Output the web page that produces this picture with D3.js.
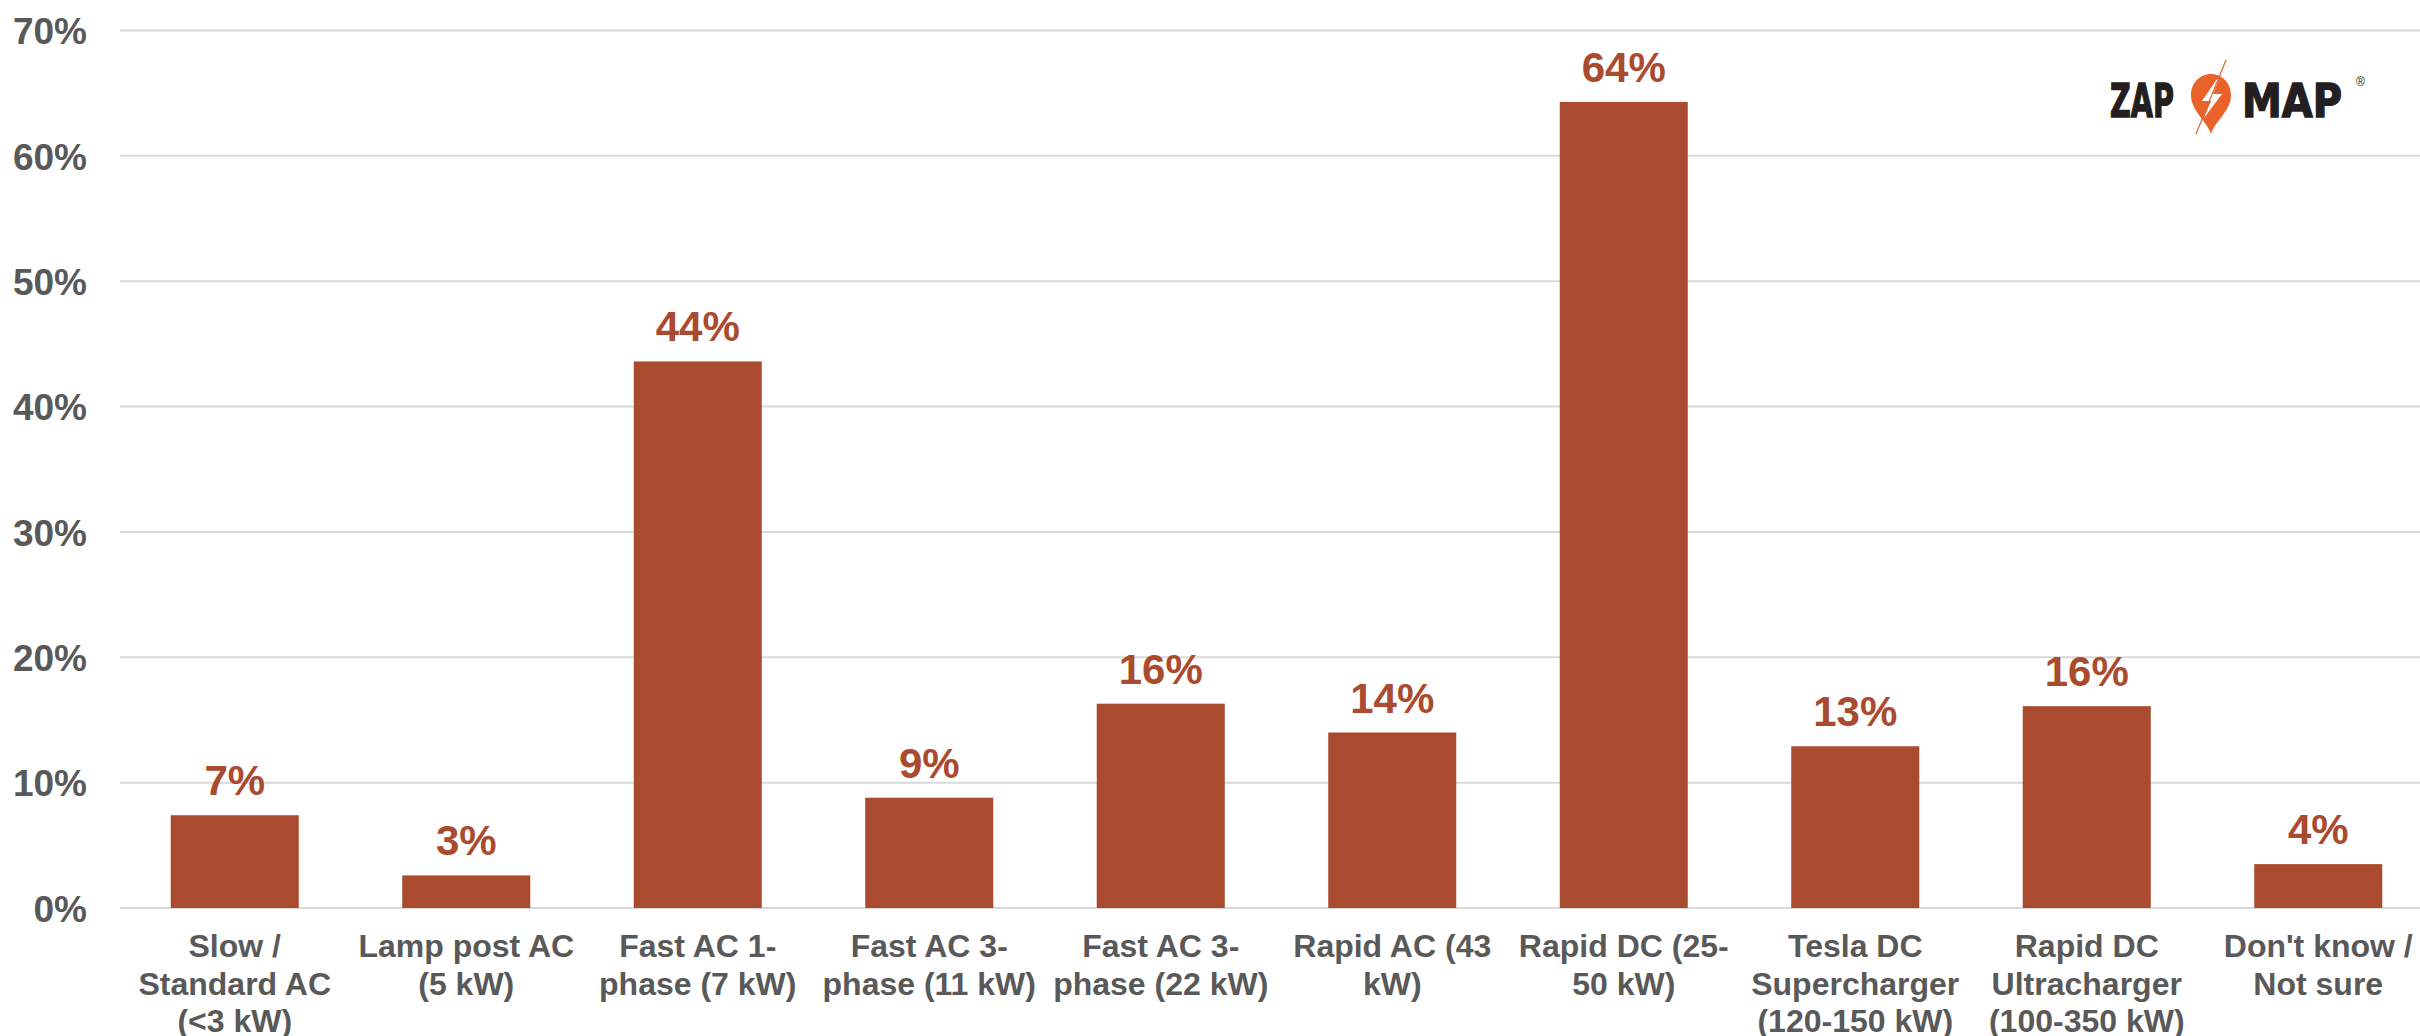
<!DOCTYPE html>
<html>
<head>
<meta charset="utf-8">
<script src="https://cdn.jsdelivr.net/npm/d3@7"></script>
<style>
  html, body { margin: 0; padding: 0; background: #fff; }
  svg { display: block; }
</style>
</head>
<body>
<svg id="chart" width="2420" height="1036"></svg>
<script>
// ---- data ----
const categories = [
  ["Slow /", "Standard AC", "(<3 kW)"],
  ["Lamp post AC", "(5 kW)"],
  ["Fast AC 1-", "phase (7 kW)"],
  ["Fast AC 3-", "phase (11 kW)"],
  ["Fast AC 3-", "phase (22 kW)"],
  ["Rapid AC (43", "kW)"],
  ["Rapid DC (25-", "50 kW)"],
  ["Tesla DC", "Supercharger", "(120-150 kW)"],
  ["Rapid DC", "Ultracharger", "(100-350 kW)"],
  ["Don't know /", "Not sure"]
];
const values = [7.4, 2.6, 43.6, 8.8, 16.3, 14.0, 64.3, 12.9, 16.1, 3.5];
const valueLabels = ["7%", "3%", "44%", "9%", "16%", "14%", "64%", "13%", "16%", "4%"];
const yTicks = [0, 10, 20, 30, 40, 50, 60, 70];

// ---- layout ----
const svg = d3.select("#chart");
const FONT = "'Liberation Sans', Arial, Helvetica, sans-serif";
const barColor = "#AA4A2E";
const textGrey = "#595959";

const keys = categories.map((d, i) => i);
const x = d3.scaleBand().domain(keys).range([119, 2434]).paddingInner(0.447).paddingOuter(0.2235);
const y = d3.scaleLinear().domain([0, 70]).range([908, 30.5]);

// gridlines
svg.append("g").selectAll("line").data(yTicks).join("line")
  .attr("x1", 120).attr("x2", 2420)
  .attr("y1", d => y(d)).attr("y2", d => y(d))
  .attr("stroke", "#d9d9d9").attr("stroke-width", 2);

// y axis labels
const yAxis = d3.axisLeft(y).tickValues(yTicks).tickFormat(d => d + "%").tickSize(0).tickPadding(0);
const yg = svg.append("g").attr("transform", "translate(87,0)").call(yAxis);
yg.select(".domain").remove();
yg.selectAll("text")
  .attr("font-family", FONT).attr("font-size", 37).attr("font-weight", "bold")
  .attr("fill", textGrey).attr("x", 0).attr("dy", "0.36em").attr("text-anchor", "end");

// bars
svg.append("g").selectAll("rect").data(values).join("rect")
  .attr("x", (d, i) => x(i))
  .attr("width", x.bandwidth())
  .attr("y", d => y(d))
  .attr("height", d => y(0) - y(d))
  .attr("fill", barColor);

// value labels
svg.append("g").selectAll("text").data(values).join("text")
  .attr("x", (d, i) => x(i) + x.bandwidth() / 2)
  .attr("y", d => y(d) - 20)
  .attr("text-anchor", "middle")
  .attr("font-family", FONT).attr("font-size", 42).attr("font-weight", "bold")
  .attr("fill", barColor)
  .text((d, i) => valueLabels[i]);

// x axis labels
const xg = svg.append("g");
categories.forEach((lines, i) => {
  const t = xg.append("text")
    .attr("x", x(i) + x.bandwidth() / 2)
    .attr("y", 957)
    .attr("text-anchor", "middle")
    .attr("font-family", FONT).attr("font-size", 32).attr("font-weight", "bold")
    .attr("fill", textGrey);
  lines.forEach((ln, j) => {
    t.append("tspan").attr("x", x(i) + x.bandwidth() / 2).attr("y", 957 + j * 37.5).text(ln);
  });
});

// ---- ZAP MAP logo ----
const logo = svg.append("g");
logo.append("text").attr("x", 2110).attr("y", 117)
  .attr("font-family", "'DejaVu Sans', sans-serif").attr("font-weight", "bold")
  .attr("font-size", 46).attr("fill", "#231f20").attr("stroke", "#231f20").attr("stroke-width", 1.5)
  .attr("textLength", 64).attr("lengthAdjust", "spacingAndGlyphs").text("ZAP");
logo.append("text").attr("x", 2242).attr("y", 117)
  .attr("font-family", "'DejaVu Sans', sans-serif").attr("font-weight", "bold")
  .attr("font-size", 46).attr("fill", "#231f20").attr("stroke", "#231f20").attr("stroke-width", 1.5)
  .attr("textLength", 100).attr("lengthAdjust", "spacingAndGlyphs").text("MAP");
logo.append("text").attr("x", 2356).attr("y", 86)
  .attr("font-family", FONT).attr("font-size", 12).attr("fill", "#231f20").text("®");
// pin
logo.append("path")
  .attr("d", "M2211,134 C2207,121 2191,111 2191,95 C2191,83 2200,74 2211,74 C2222,74 2231,83 2231,95 C2231,111 2215,121 2211,134 Z")
  .attr("fill", "#E8622A");
// lightning bolt
logo.append("path")
  .attr("d", "M2217,79 L2202,101 L2211,101 L2204,118 L2222,94 L2213,94 L2219,79 Z")
  .attr("fill", "#fff");
logo.append("line").attr("x1", 2226).attr("y1", 60).attr("x2", 2196).attr("y2", 134)
  .attr("stroke", "#E8622A").attr("stroke-width", 1.2);
</script>
</body>
</html>
